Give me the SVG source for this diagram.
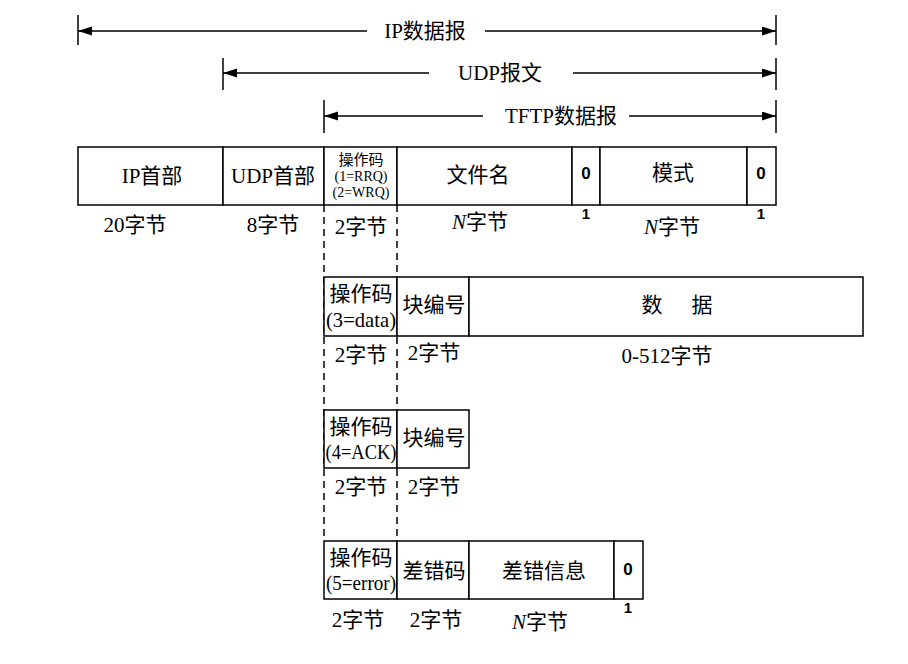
<svg xmlns="http://www.w3.org/2000/svg" width="908" height="664" viewBox="0 0 908 664">
<style>
.box{fill:#fff;stroke:#000;stroke-width:1.5}
.t{font-family:"Liberation Serif","Noto Sans CJK SC",serif;font-size:21px;fill:#000;text-anchor:middle;dominant-baseline:central}
.s{font-size:14px}
.b{font-family:"Liberation Sans","DejaVu Sans",sans-serif;font-weight:bold;font-size:17px;fill:#000;text-anchor:middle;dominant-baseline:central}
.one{font-size:15px}
.ln{stroke:#000;stroke-width:1.5;fill:none}
.dash{stroke:#000;stroke-width:1.5;stroke-dasharray:7 5;fill:none}
</style>
<defs>
<marker id="ah" markerUnits="userSpaceOnUse" markerWidth="15" markerHeight="10" refX="14" refY="4.5" orient="auto">
<path d="M0,0 L14,4.5 L0,9 z" fill="#000"/>
</marker>
</defs>
<g id="connectors">
<line class="ln" x1="78" y1="15" x2="78" y2="45"/>
<line class="ln" x1="776" y1="15" x2="776" y2="45"/>
<line class="ln" x1="367" y1="31" x2="78" y2="31" marker-end="url(#ah)"/>
<line class="ln" x1="485" y1="31" x2="776" y2="31" marker-end="url(#ah)"/>
<line class="ln" x1="223" y1="58" x2="223" y2="90"/>
<line class="ln" x1="776" y1="58" x2="776" y2="90"/>
<line class="ln" x1="429" y1="73" x2="223" y2="73" marker-end="url(#ah)"/>
<line class="ln" x1="573" y1="73" x2="776" y2="73" marker-end="url(#ah)"/>
<line class="ln" x1="324" y1="100" x2="324" y2="133"/>
<line class="ln" x1="776" y1="100" x2="776" y2="133"/>
<line class="ln" x1="483" y1="116" x2="324" y2="116" marker-end="url(#ah)"/>
<line class="ln" x1="629" y1="116" x2="776" y2="116" marker-end="url(#ah)"/>
<line class="dash" x1="324" y1="205" x2="324" y2="541"/>
<line class="dash" x1="397" y1="205" x2="397" y2="541"/>
</g>
<g id="span-labels">
<text class="t" x="425" y="31">IP数据报</text>
<text class="t" x="500" y="73">UDP报文</text>
<text class="t" x="561" y="116">TFTP数据报</text>
</g>
<g id="row1">
<g id="ip-header"><rect class="box" x="78" y="147" width="145" height="58"/><text class="t" x="152" y="176">IP首部</text><text class="t" x="135" y="225">20字节</text></g>
<g id="udp-header"><rect class="box" x="223" y="147" width="101" height="58"/><text class="t" x="273" y="176">UDP首部</text><text class="t" x="273" y="225">8字节</text></g>
<g id="opcode1"><rect class="box" x="324" y="147" width="73" height="58"/><text class="t" x="361" y="160" style="font-size:15px">操作码</text><text class="t s" x="361" y="176">(1=RRQ)</text><text class="t s" x="361" y="192">(2=WRQ)</text><text class="t" x="361" y="227">2字节</text></g>
<g id="filename"><rect class="box" x="397" y="147" width="175" height="58"/><text class="t" x="478" y="175">文件名</text><text class="t" x="480" y="222"><tspan font-style="italic">N</tspan>字节</text></g>
<g id="zero1"><rect class="box" x="572" y="147" width="28" height="58"/><text class="b" x="586" y="173">0</text><text class="b one" x="586" y="213">1</text></g>
<g id="mode"><rect class="box" x="600" y="147" width="147" height="58"/><text class="t" x="673" y="173">模式</text><text class="t" x="672" y="227"><tspan font-style="italic">N</tspan>字节</text></g>
<g id="zero2"><rect class="box" x="747" y="147" width="29" height="58"/><text class="b" x="761" y="173">0</text><text class="b one" x="761" y="213">1</text></g>
</g>
<g id="row2">
<g id="opcode3"><rect class="box" x="324" y="277" width="73" height="59"/><text class="t" x="361" y="294">操作码</text><text class="t" x="361" y="320" textLength="70" lengthAdjust="spacingAndGlyphs">(3=data)</text><text class="t" x="361" y="355">2字节</text></g>
<g id="block2"><rect class="box" x="397" y="277" width="72" height="59"/><text class="t" x="434" y="305">块编号</text><text class="t" x="434" y="353">2字节</text></g>
<g id="data"><rect class="box" x="469" y="277" width="394" height="59"/><text class="t" x="652" y="305">数</text><text class="t" x="702" y="305">据</text><text class="t" x="667" y="356">0-512字节</text></g>
</g>
<g id="row3">
<g id="opcode4"><rect class="box" x="324" y="410" width="73" height="58"/><text class="t" x="361" y="427">操作码</text><text class="t" x="361" y="452" textLength="71" lengthAdjust="spacingAndGlyphs">(4=ACK)</text><text class="t" x="361" y="487">2字节</text></g>
<g id="block4"><rect class="box" x="397" y="410" width="72" height="58"/><text class="t" x="434" y="438">块编号</text><text class="t" x="434" y="487">2字节</text></g>
</g>
<g id="row4">
<g id="opcode5"><rect class="box" x="324" y="541" width="73" height="58"/><text class="t" x="361" y="558">操作码</text><text class="t" x="361" y="583" textLength="70" lengthAdjust="spacingAndGlyphs">(5=error)</text><text class="t" x="358" y="620">2字节</text></g>
<g id="errcode"><rect class="box" x="397" y="541" width="72" height="58"/><text class="t" x="434" y="571">差错码</text><text class="t" x="436" y="620">2字节</text></g>
<g id="errmsg"><rect class="box" x="469" y="541" width="145" height="58"/><text class="t" x="544" y="571">差错信息</text><text class="t" x="540" y="622"><tspan font-style="italic">N</tspan>字节</text></g>
<g id="zero3"><rect class="box" x="614" y="541" width="29" height="58"/><text class="b" x="628" y="569">0</text><text class="b one" x="628" y="607">1</text></g>
</g>
</svg>
